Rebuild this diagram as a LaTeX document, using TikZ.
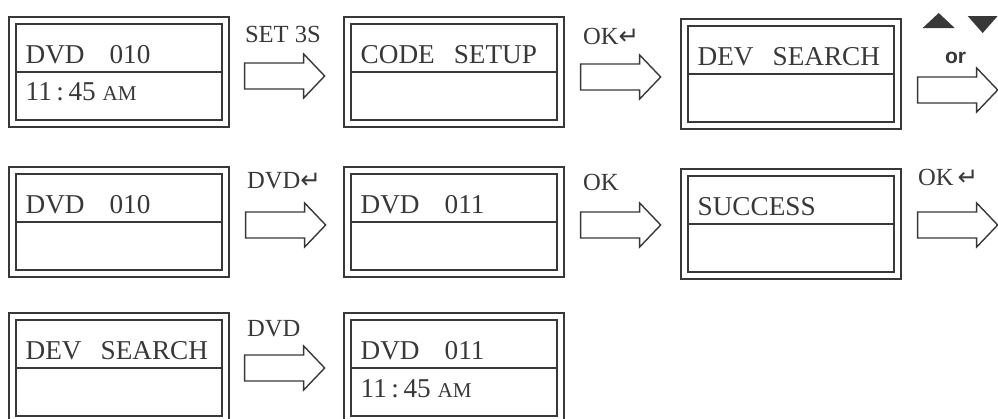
\documentclass[tikz,border=0pt]{standalone}
\usepackage{fontspec}
\setmainfont{Liberation Serif}
\newfontfamily\keyfont{DejaVu Sans}
\newfontfamily\orfont{Liberation Sans}

\definecolor{ink}{gray}{0.22}

\tikzset{
  lcd/.style={draw=ink, line width=0.048cm, double=white, double distance=0.092cm,
    minimum width=4.26cm, minimum height=2.06cm, inner sep=0},
  divider/.style={draw=ink, line width=0.035cm},
  lcdtext/.style={anchor=base west, inner sep=0, text=ink, font=\fontsize{15.5}{18}\selectfont},
  lbl/.style={anchor=base west, inner sep=0, text=ink, font=\fontsize{14}{16}\selectfont},
  barrow/.style={draw=ink, line width=0.028cm, line join=miter},
  keytri/.style={fill=ink, draw=none},
}

\newcommand\lcd[4]{
  \node[lcd] (#1) at (#2,#3) {};
  \draw[divider] ([xshift=0.07cm]#1.west) -- ([xshift=-0.07cm]#1.east);
  \node[lcdtext] (#1top) at ([shift={(14,-9)}]#1.west) {#4};
}
\newcommand\blockarrow[1]{
  \draw[barrow] (#1) ++(0,-13) -- ++(59,0) -- ++(0,-9) -- ++(21,22) -- ++(-21,22) -- ++(0,-9) -- ++(-59,0) -- cycle;
}
\newcommand\gap{\hspace{0.38cm}}
\newcommand\numgap{\hspace{0.5cm}}
\newcommand\ampm{{\fontsize{12}{14}\selectfont AM}}
\newcommand\enterkey{{\keyfont\fontsize{14}{16}\selectfont ↵}}

\begin{document}
\begin{tikzpicture}[x=0.02cm, y=-0.02cm]
    \useasboundingbox (0,0) rectangle (998,419);

    % first row
    \lcd{dvdA}{119}{72}{DVD\numgap 010}
    \node[lcdtext] (dvdAbot) at ([shift={(14,28)}]dvdA.west) {11\,:\,45 \ampm};
    \lcd{codeB}{454}{72}{CODE\gap SETUP}
    \lcd{devC}{791}{74}{DEV\gap SEARCH}

    % set 3s
    \coordinate (arA) at ([shift={(18,4)}]dvdA.east);
    \blockarrow{arA}
    \node[lbl] (setA) at ([shift={(0,-34)}]arA) {SET 3S};
    % ok
    \coordinate (arB) at ([shift={(19,5)}]codeB.east);
    \blockarrow{arB}
    \node[lbl] (okB) at ([shift={(2,-33)}]arB) {OK\enterkey};
    % up or down
    \coordinate (arC) at ([shift={(19,16)}]devC.east);
    \blockarrow{arC}
    \node[lbl, font=\orfont\bfseries\fontsize{12}{14}\selectfont] (orC) at ([shift={(27,-27)}]arC) {or};
    \fill[keytri] ([shift={(21,-77)}]arC) -- ([shift={(37,-62)}]arC) -- ([shift={(5,-62)}]arC) -- cycle;
    \fill[keytri] ([shift={(50,-74)}]arC) -- ([shift={(80,-74)}]arC) -- ([shift={(65,-57)}]arC) -- cycle;

    % second row
    \lcd{dvdD}{119}{222}{DVD\numgap 010}
    \lcd{dvdE}{454}{222}{DVD\numgap 011}
    \lcd{sucF}{791}{224}{SUCCESS}

    \coordinate (arD) at ([shift={(19,3)}]dvdD.east);
    \blockarrow{arD}
    \node[lbl] (dvdkeyD) at ([shift={(1,-37)}]arD) {DVD\enterkey};
    \coordinate (arE) at ([shift={(19,3)}]dvdE.east);
    \blockarrow{arE}
    \node[lbl] (okE) at ([shift={(2,-35)}]arE) {OK};
    \coordinate (arF) at ([shift={(19,1)}]sucF.east);
    \blockarrow{arF}
    \node[lbl] (okF) at ([shift={(0,-40)}]arF) {OK\,\enterkey};

    % third row
    \lcd{devG}{119}{368}{DEV\gap SEARCH}
    \lcd{dvdH}{454}{368}{DVD\numgap 011}
    \node[lcdtext] (dvdHbot) at ([shift={(14,29)}]dvdH.west) {11\,:\,45 \ampm};

    \coordinate (arG) at ([shift={(18,0)}]devG.east);
    \blockarrow{arG}
    \node[lbl] (dvdG) at ([shift={(2,-32)}]arG) {DVD};
\end{tikzpicture}
\end{document}
